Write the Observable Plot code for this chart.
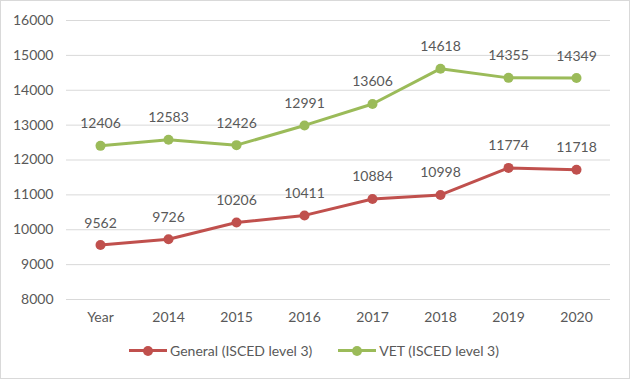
<!DOCTYPE html>
<html><head><meta charset="utf-8">
<script src="https://cdn.jsdelivr.net/npm/d3@7"></script>
<script src="https://cdn.jsdelivr.net/npm/@observablehq/plot@0.6"></script>
<style>
html,body{margin:0;padding:0;background:#fff;}
#wrap{width:630px;height:379px;box-sizing:border-box;border:1px solid #d9d9d9;font-family:Lato,"Open Sans",sans-serif;color:#595959;position:relative;}
#chart svg{display:block;}
#legend{display:flex;justify-content:center;gap:26px;font-size:14px;margin-top:12px;margin-left:-2px;}
.item{display:flex;align-items:center;}
.key{position:relative;width:38px;height:10px;margin-right:3px;}
.key .ln{position:absolute;left:0;right:0;top:3.5px;height:3px;}
.key .dt{position:absolute;left:14px;top:0;width:10px;height:10px;border-radius:50%;}
</style></head>
<body><div id="wrap"><div id="chart"></div><div id="legend"></div></div>
<script>
const categories = ["Year","2014","2015","2016","2017","2018","2019","2020"];
const general = [9562,9726,10206,10411,10884,10998,11774,11718];
const vet = [12406,12583,12426,12991,13606,14618,14355,14349];
const seriesNames = ["General (ISCED level 3)","VET (ISCED level 3)"];
const colors = ["#C0504D","#9BBB59"];
const yTicks = [8000,9000,10000,11000,12000,13000,14000,15000,16000];

const rows = [];
categories.forEach((c,i)=>{
  rows.push({cat:c,value:general[i],series:seriesNames[0]});
  rows.push({cat:c,value:vet[i],series:seriesNames[1]});
});

const plot = Plot.plot({
  width: 628, height: 329,
  marginTop: 19, marginLeft: 65, marginRight: 19, marginBottom: 31,
  style: {fontFamily: "Lato, 'Open Sans', sans-serif", fontSize: "14px", color: "#595959", background: "#fff"},
  x: {type: "point", domain: categories, padding: 0.5, label: null},
  y: {domain: [8000,16000], ticks: yTicks, label: null},
  color: {domain: seriesNames, range: colors},
  marks: [
    Plot.gridY(yTicks, {stroke: "#d9d9d9", strokeOpacity: 1, strokeWidth: 1}),
    Plot.axisX({tickSize: 0, tickPadding: 13, fontSize: 14, fill: "#595959"}),
    Plot.axisY({ticks: yTicks, tickSize: 0, tickPadding: 13, fontSize: 14, fill: "#595959", tickFormat: d => String(d)}),
    Plot.line(rows, {x: "cat", y: "value", z: "series", stroke: "series", strokeWidth: 3}),
    Plot.dot(rows, {x: "cat", y: "value", fill: "series", r: 5}),
    Plot.text(rows, {x: "cat", y: "value", text: d => String(d.value), dy: -22, fill: "#595959", fontSize: 14})
  ]
});
document.getElementById("chart").appendChild(plot);

const lg = document.getElementById("legend");
seriesNames.forEach((n,i)=>{
  const it = document.createElement("div"); it.className="item";
  it.innerHTML = `<span class="key"><span class="ln" style="background:${colors[i]}"></span><span class="dt" style="background:${colors[i]}"></span></span><span>${n}</span>`;
  lg.appendChild(it);
});
</script></body></html>
